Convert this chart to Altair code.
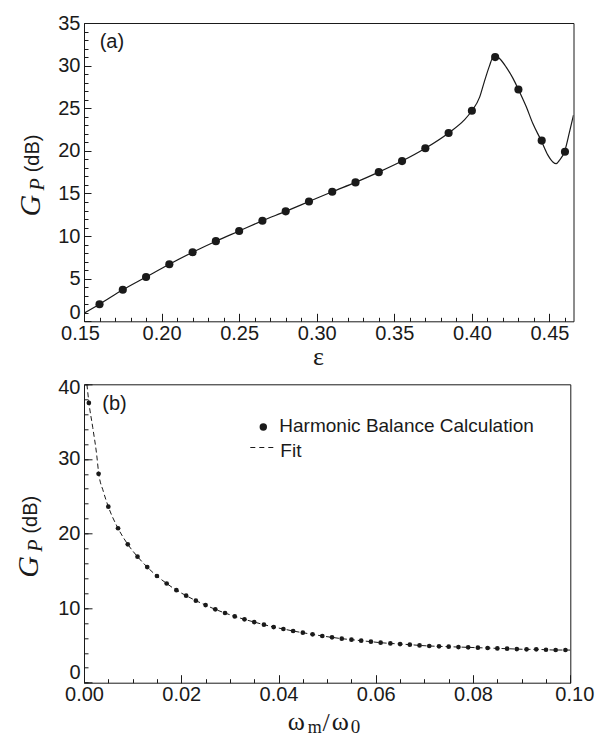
import altair as alt
import pandas as pd

# ---------------- Panel (a) data ----------------
eps_dots = [0.160, 0.175, 0.190, 0.205, 0.220, 0.235, 0.250, 0.265, 0.280, 0.295,
            0.310, 0.325, 0.340, 0.355, 0.370, 0.385, 0.400, 0.415, 0.430, 0.445, 0.460]
gp_dots = [2.0, 3.7, 5.2, 6.7, 8.1, 9.4, 10.6, 11.8, 12.9, 14.05,
           15.2, 16.3, 17.5, 18.8, 20.3, 22.1, 24.7, 31.0, 27.2, 21.2, 19.9]

eps_curve = [0.150, 0.160, 0.175, 0.190, 0.205, 0.220, 0.235, 0.250, 0.265, 0.280,
             0.295, 0.310, 0.325, 0.340, 0.355, 0.370, 0.385, 0.395, 0.400, 0.405,
             0.408, 0.4114, 0.4136, 0.4155, 0.418, 0.422, 0.4265, 0.430, 0.435, 0.4393,
             0.4447, 0.449, 0.4522, 0.4543, 0.4565, 0.4597, 0.4629, 0.4655]
gp_curve = [0.95, 2.0, 3.7, 5.2, 6.7, 8.1, 9.4, 10.6, 11.8, 12.9,
            14.05, 15.2, 16.3, 17.5, 18.8, 20.3, 22.1, 23.6, 24.7, 26.3,
            28.1, 30.0, 31.0, 31.15, 30.8, 29.85, 28.5, 27.2, 25.2, 23.2,
            21.2, 19.5, 18.7, 18.5, 18.9, 19.9, 22.2, 24.2]

# ---------------- Panel (b) data ----------------
wm_dots = [0.001, 0.003, 0.005, 0.007, 0.009, 0.011, 0.013, 0.015, 0.017, 0.019,
           0.021, 0.023, 0.025, 0.027, 0.029, 0.031, 0.033, 0.035, 0.037, 0.039,
           0.041, 0.043, 0.045, 0.047, 0.049, 0.051, 0.053, 0.055, 0.057, 0.059,
           0.061, 0.063, 0.065, 0.067, 0.069, 0.071, 0.073, 0.075, 0.077, 0.079,
           0.081, 0.083, 0.085, 0.087, 0.089, 0.091, 0.093, 0.095, 0.097, 0.099]
gpb_dots = [37.5, 28.0, 23.6, 20.7, 18.55, 16.9, 15.5, 14.3, 13.3, 12.4,
            11.67, 11.0, 10.4, 9.83, 9.34, 8.89, 8.49, 8.13, 7.78, 7.46,
            7.2, 6.93, 6.7, 6.48, 6.26, 6.08, 5.9, 5.77, 5.63, 5.5,
            5.36, 5.27, 5.18, 5.1, 5.0, 4.92, 4.87, 4.83, 4.78, 4.74,
            4.69, 4.65, 4.6, 4.56, 4.51, 4.47, 4.47, 4.42, 4.38, 4.38]

wm_fit = [0.0006, 0.001, 0.0018, 0.0026, 0.003, 0.004, 0.005, 0.007, 0.009, 0.011,
          0.013, 0.015, 0.017, 0.019, 0.021, 0.023, 0.025, 0.027, 0.029, 0.031,
          0.033, 0.035, 0.037, 0.039, 0.041, 0.043, 0.045, 0.047, 0.049, 0.051,
          0.053, 0.055, 0.057, 0.059, 0.061, 0.063, 0.065, 0.067, 0.069, 0.071,
          0.073, 0.075, 0.077, 0.079, 0.081, 0.083, 0.085, 0.087, 0.089, 0.091,
          0.093, 0.095, 0.097, 0.099, 0.100]
gp_fit = [40.0, 37.6, 34.2, 30.6, 28.2, 25.6, 23.6, 20.7, 18.55, 16.9,
          15.5, 14.3, 13.3, 12.4, 11.67, 11.0, 10.4, 9.83, 9.34, 8.89,
          8.49, 8.13, 7.78, 7.46, 7.2, 6.93, 6.7, 6.48, 6.26, 6.08,
          5.9, 5.77, 5.63, 5.5, 5.36, 5.27, 5.18, 5.1, 5.0, 4.92,
          4.87, 4.83, 4.78, 4.74, 4.69, 4.65, 4.6, 4.56, 4.51, 4.47,
          4.47, 4.42, 4.38, 4.38, 4.37]

# ---------------- tick values ----------------
a_x_major = [0.15, 0.20, 0.25, 0.30, 0.35, 0.40, 0.45]
a_x_minor = [round(0.15 + 0.01 * i, 2) for i in range(32)]
a_y_major = [0, 5, 10, 15, 20, 25, 30, 35]
a_y_minor = list(range(0, 36))
b_x_major = [0.00, 0.02, 0.04, 0.06, 0.08, 0.10]
b_x_minor = [round(0.005 * i, 3) for i in range(21)]
b_y_major = [0, 10, 20, 30, 40]
b_y_minor = list(range(0, 41, 2))

SANS = "Liberation Sans"
SERIF = "Liberation Serif"
INK = "#1a1a1a"

W_A, H_A = 489.5, 298.3
W_B, H_B = 486.3, 298.4


def major_axis(orient, values, fmt, size, label_offset=0, pad=2):
    return alt.Axis(orient=orient, values=values, format=fmt, title=None, grid=False,
                    domain=False, tickSize=size, offset=-size, tickColor=INK, tickWidth=1,
                    labelFont=SANS, labelFontSize=20, labelColor=INK, labelPadding=pad,
                    labelFlush=False, labelOverlap=False, labelOffset=label_offset)


def minor_axis(orient, values, size):
    return alt.Axis(orient=orient, values=values, labels=False, title=None, grid=False,
                    domain=False, tickSize=size, offset=-size, tickColor=INK, tickWidth=1)


one = pd.DataFrame({"k": [0]})


def label(txt, x, y, size, font=SANS, style="normal", angle=None, align="left",
          baseline="middle"):
    kw = dict(font=font, fontSize=size, fontStyle=style, align=align,
              baseline=baseline, color=INK)
    if angle is not None:
        kw["angle"] = angle
    return alt.Chart(one).mark_text(**kw).encode(
        x=alt.value(x), y=alt.value(y), text=alt.value(txt))


def ytitle(dx):
    return [
        label("G", dx, 193.5, 30, SERIF, "italic", 270, "left", "alphabetic"),
        label("P", dx + 4, 167.5, 20, SERIF, "italic", 270, "left", "alphabetic"),
        label("(dB)", dx - 1, 149.3, 20, SANS, "normal", 270, "left", "alphabetic"),
    ]


# ---------------- Panel (a) ----------------
dfa = pd.DataFrame({"eps": eps_dots, "gp": gp_dots})
dfa_c = pd.DataFrame({"eps": eps_curve, "gp": gp_curve})
xa = alt.Scale(domain=[0.15, 0.4655], nice=False, zero=False)
ya = alt.Scale(domain=[0, 35], nice=False, zero=False)

a_dots = alt.Chart(dfa).mark_circle(size=66, color=INK, opacity=1).encode(
    x=alt.X("eps:Q", scale=xa,
            axis=major_axis("bottom", a_x_major, ".2f", 8,
                            {"expr": "datum.value <= 0.151 ? -4 : 0"})),
    y=alt.Y("gp:Q", scale=ya,
            axis=major_axis("left", a_y_major, "d", 7,
                            {"expr": "datum.value == 0 ? -9 : 0"}, 4)),
)
a_line = alt.Chart(dfa_c).mark_line(color=INK, strokeWidth=1.2, interpolate="monotone",
                                    clip=True).encode(
    x=alt.X("eps:Q", scale=xa, axis=minor_axis("bottom", a_x_minor, 4)),
    y=alt.Y("gp:Q", scale=ya, axis=minor_axis("left", a_y_minor, 4)),
)
panel_a = alt.layer(
    a_line, a_dots,
    label("(a)", 15.7, 19, 20),
    label("ε", 234.5, 342.0, 26, SERIF, "normal", None, "center", "alphabetic"),
    *ytitle(-44),
).resolve_axis(x="independent", y="independent").properties(width=W_A, height=H_A)

# ---------------- Panel (b) ----------------
dfb = pd.DataFrame({"w": wm_dots, "gp": gpb_dots})
dfb_f = pd.DataFrame({"w": wm_fit, "gp": gp_fit})
xb = alt.Scale(domain=[0, 0.1], nice=False, zero=False)
yb = alt.Scale(domain=[0, 40], nice=False, zero=False)

b_dots = alt.Chart(dfb).mark_circle(size=22, color=INK, opacity=1).encode(
    x=alt.X("w:Q", scale=xb,
            axis=major_axis("bottom", b_x_major, ".2f", 8,
                            {"expr": "datum.value >= 0.099 ? 4 : 0"})),
    y=alt.Y("gp:Q", scale=yb,
            axis=major_axis("left", b_y_major, "d", 8,
                            {"expr": "datum.value == 0 ? -10 : (datum.value == 40 ? 3 : 0)"}, 4)),
)
b_fit = alt.Chart(dfb_f).mark_line(color=INK, strokeWidth=1, strokeDash=[5, 3],
                                   interpolate="monotone", clip=True).encode(
    x=alt.X("w:Q", scale=xb, axis=minor_axis("bottom", b_x_minor, 4)),
    y=alt.Y("gp:Q", scale=yb, axis=minor_axis("left", b_y_minor, 4)),
)
legend_dot = alt.Chart(one).mark_circle(size=55, color=INK, opacity=1).encode(
    x=alt.value(179.3), y=alt.value(42.7))
legend_dash = alt.Chart(one).mark_rule(color=INK, strokeWidth=1.2, strokeDash=[5, 4]).encode(
    x=alt.value(166.3), x2=alt.value(189.3), y=alt.value(63.2))

panel_b = alt.layer(
    b_fit, b_dots,
    label("(b)", 18.3, 20, 20),
    legend_dot,
    label("Harmonic Balance Calculation", 195.3, 41.2, 19),
    legend_dash,
    label("Fit", 196.3, 66.2, 19),
    label("ω", 203.7, 345.7, 26, SERIF, "normal", None, "left", "alphabetic"),
    label("m", 223.7, 349.0, 18, SERIF, "normal", None, "left", "alphabetic"),
    label("/", 238.4, 346.7, 26, SERIF, "normal", None, "left", "alphabetic"),
    label("ω", 247.7, 345.7, 26, SERIF, "normal", None, "left", "alphabetic"),
    label("0", 266.7, 349.0, 19, SERIF, "normal", None, "left", "alphabetic"),
    *ytitle(-46.5),
).resolve_axis(x="independent", y="independent").properties(width=W_B, height=H_B)

chart = alt.vconcat(panel_a, panel_b, spacing=62.3, bounds="flush").configure_view(
    stroke=INK, strokeWidth=1
).properties(
    padding={"left": 13, "top": 12, "right": 0, "bottom": 0},
    autosize=alt.AutoSizeParams(type="pad"),
    background="white",
)

chart.save("out.html", embed_options={"renderer": "svg", "actions": False})
